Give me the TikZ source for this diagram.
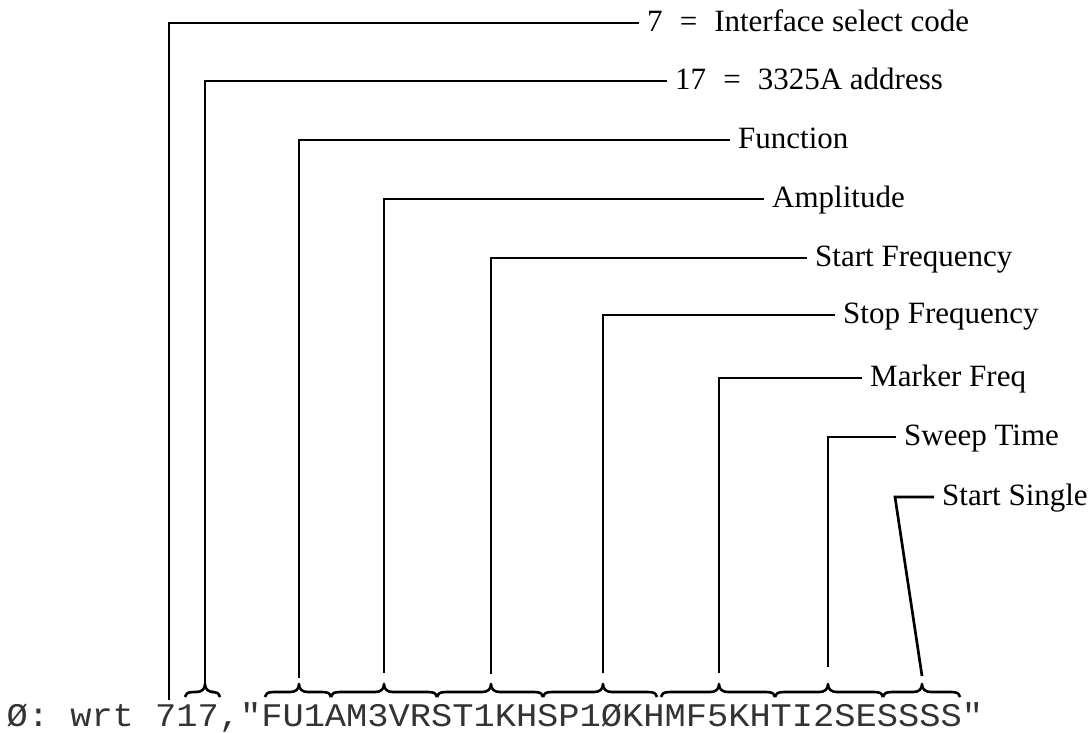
\documentclass[tikz,border=0pt]{standalone}
\usepackage{fontspec}
\setmainfont{Liberation Serif}
\newfontfamily\dotfont[FakeStretch=1.072]{Liberation Mono}
\newcommand\hpbrace[3]{%
  \draw[bracepath] (#1,-697) .. controls (#1+2,-692.5) .. (#1+9,-692)
    -- (#2-9,-692) .. controls (#2-3,-692) and (#2,-689) .. (#2,-684)
    .. controls (#2,-689) and (#2+3,-692) .. (#2+9,-692)
    -- (#3-9,-692) .. controls (#3-2,-692.5) .. (#3,-697);}
\begin{document}
\begin{tikzpicture}[x=1pt,y=1pt,
  lead/.style={line width=2.7pt, line join=miter, line cap=butt},
  bracepath/.style={line width=2.6pt, line join=round},
  lab/.style={anchor=west, inner xsep=8pt, inner ysep=0pt,
    text height=17.4pt, text depth=0pt, font=\fontsize{31}{36}\selectfont},
  cmdtext/.style={anchor=base west, inner sep=0pt, text=black!80,
    font=\dotfont\fontsize{33}{38}\selectfont}]
\useasboundingbox (0,0) rectangle (1091,-732);

% labels
\node[lab] (L1) at (639,-23) {7\hspace{0.55em}=\hspace{0.55em}Interface select code};
\node[lab] (L2) at (667,-81) {17\hspace{0.55em}=\hspace{0.55em}3325A address};
\node[lab] (L3) at (730,-140) {Function};
\node[lab] (L4) at (764,-199) {Amplitude};
\node[lab] (L5) at (807,-258) {Start Frequency};
\node[lab] (L6) at (835,-315) {Stop Frequency};
\node[lab] (L7) at (862,-378) {Marker Freq};
\node[lab] (L8) at (896,-437) {Sweep Time};
\node[lab] (L9) at (934,-497) {Start Single};

% command line
\node[cmdtext] (cmd) at (6.4,-726.5) {Ø:\ wrt\ 717,"FU1AM3VRST1KHSP1ØKHMF5KHTI2SESSSS"};

% line ends
\coordinate (B1) at (169,-700);
\coordinate (B2) at (205,-686);
\coordinate (B3) at (299,-678);
\coordinate (B4) at (384,-673);
\coordinate (B5) at (491,-674);
\coordinate (B6) at (603,-673);
\coordinate (B7) at (719,-673);
\coordinate (B8) at (828,-667);
\coordinate (K9) at (895,-497);
\coordinate (B9) at (922,-676);

% leaders
\draw[lead] (L1.west) -| (B1);
\draw[lead] (L2.west) -| (B2);
\draw[lead] (L3.west) -| (B3);
\draw[lead] (L4.west) -| (B4);
\draw[lead] (L5.west) -| (B5);
\draw[lead] (L6.west) -| (B6);
\draw[lead] (L7.west) -| (B7);
\draw[lead] (L8.west) -| (B8);
\draw[lead] (L9.west) -- (K9) -- (B9);

% braces
\hpbrace{185}{205}{220}
\hpbrace{265}{299}{331}
\hpbrace{331}{384}{437}
\hpbrace{437}{491}{543}
\hpbrace{543}{603}{657}
\hpbrace{661}{719}{775}
\hpbrace{775}{828}{883}
\hpbrace{883}{922}{960}
\end{tikzpicture}
\end{document}
